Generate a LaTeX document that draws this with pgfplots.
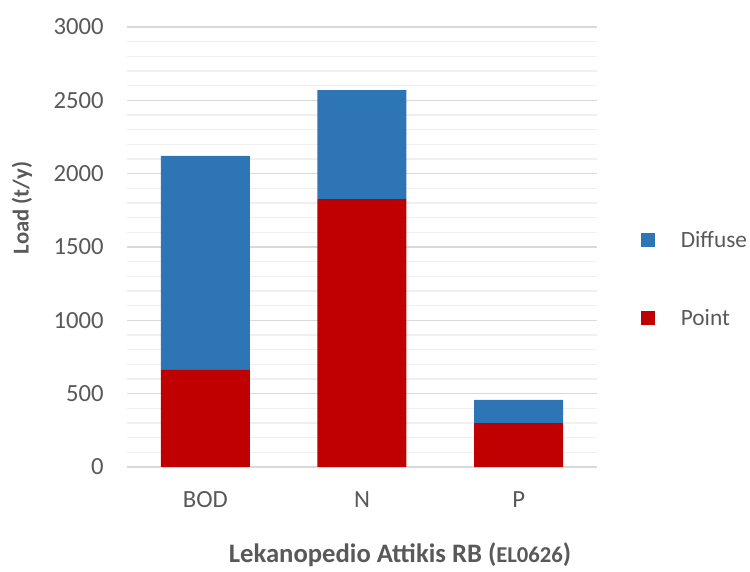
\documentclass[border=0pt]{standalone}
\usepackage{fontspec}
\setmainfont{Carlito}
\usepackage{pgfplots}
\pgfplotsset{compat=1.18}
\definecolor{diffuse}{HTML}{2E75B6}
\definecolor{point}{HTML}{C00000}
\definecolor{txt}{HTML}{595959}
\begin{document}
\begin{tikzpicture}
\begin{axis}[
    scale only axis,
    width=352.5pt, height=330pt,
    ybar stacked,
    bar width=66.75pt,
    xmin=-0.5, xmax=2.5,
    ymin=0, ymax=3000,
    xtick=data,
    xticklabels={BOD,N,P},
    ytick={0,500,...,3000},
    minor y tick num=4,
    ymajorgrids, yminorgrids,
    major grid style={draw=black!15, line width=0.8pt},
    minor grid style={draw=black!6, line width=0.8pt},
    axis x line*=bottom,
    axis y line*=left,
    y axis line style={draw=none},
    x axis line style={draw=black!15, line width=0.8pt, -},
    major tick length=0pt, minor tick length=0pt,
    tick style={draw=none},
    /pgf/number format/assume math mode=true,
    /pgf/number format/1000 sep={},
    tick label style={font=\fontsize{18.5pt}{20pt}\selectfont, text=txt},
    yticklabel style={xshift=-14pt},
    xticklabel style={yshift=-15pt},
    ylabel={\textbf{Load (t/y)}},
    ylabel style={font=\fontsize{17pt}{19pt}\selectfont, text=txt, at={(axis description cs:-0.2234,0.589)}, anchor=center},
    xlabel={\textbf{Lekanopedio Attikis RB (}\textbf{\fontsize{17pt}{19pt}\selectfont EL0626}\textbf{)}},
    xlabel style={font=\fontsize{20pt}{22pt}\selectfont, text=txt, at={(axis description cs:0.581,-0.2)}, anchor=center},
    reverse legend,
    legend style={at={(axis description cs:1.094,0.427)}, anchor=west, draw=none, fill=none,
        font=\fontsize{17.5pt}{19pt}\selectfont, text=txt, inner sep=0pt,
        row sep=41pt},
    legend cell align=left,
    legend image code/.code={\fill[#1] (0pt,-5.25pt) rectangle (10.5pt,5.25pt);},
    every axis plot/.append style={draw=none},
]
\addplot[fill=point] coordinates {(0,663) (1,1827) (2,299)};
\addlegendentry{\hspace{17pt}Point}
\addplot[fill=diffuse] coordinates {(0,1459) (1,742) (2,159)};
\addlegendentry{\hspace{17pt}Diffuse}
\end{axis}
\path[use as bounding box] (current axis.south west) ++(-95.25pt,-75pt) rectangle ++(562.5pt,425.25pt);
\end{tikzpicture}
\end{document}
